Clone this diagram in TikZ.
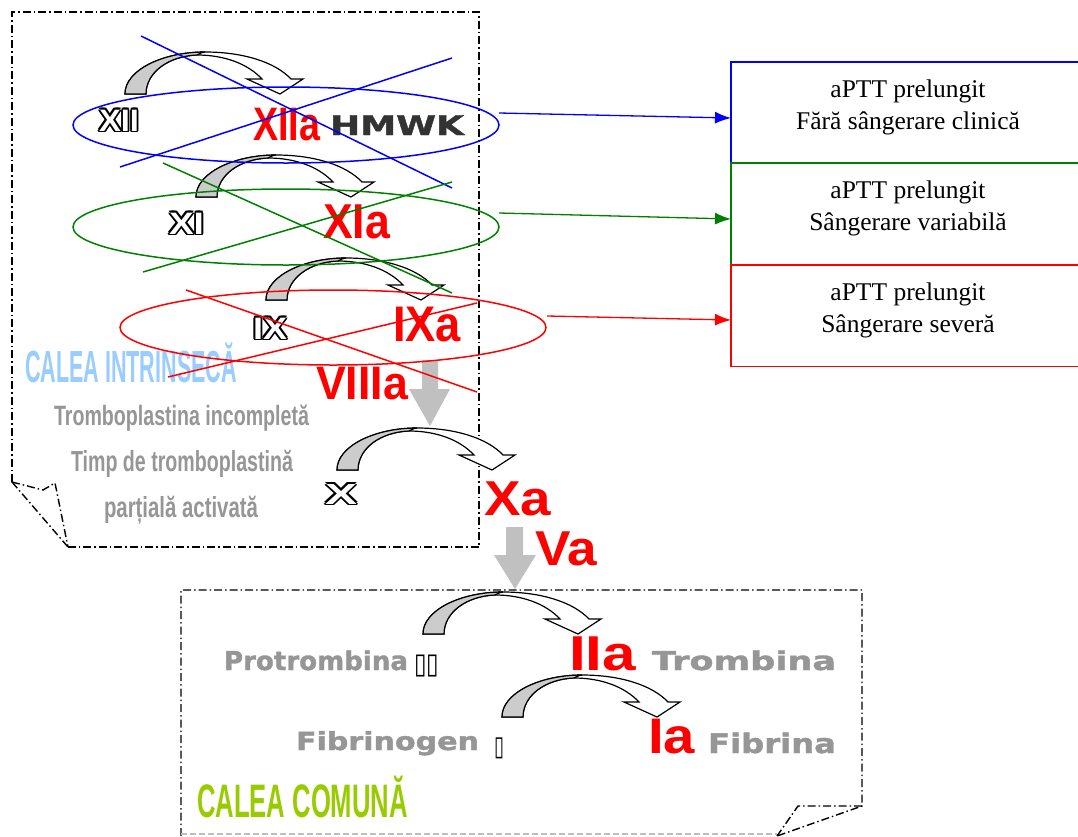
\documentclass[tikz,border=0pt]{standalone}
\usepackage{fontspec}
\usepackage{graphicx}
\usetikzlibrary{arrows.meta,shapes.geometric}
\setmainfont{Liberation Serif}
\newfontfamily\arial{Liberation Sans}
\newfontfamily\dejavu{DejaVu Sans}
\newfontfamily\dvh{DejaVu Sans Bold}[FakeBold=1.3]
\definecolor{lblue}{HTML}{99CCFF}
\definecolor{lgreen}{HTML}{99CC00}
\definecolor{tgray}{HTML}{969696}
\definecolor{dgray}{HTML}{333333}
\definecolor{agray}{HTML}{CCCCCC}
\definecolor{bgray}{HTML}{C0C0C0}
\definecolor{dgreen}{HTML}{008000}
\definecolor{egray}{HTML}{BEBEBE}
\newcommand\fw[2]{\resizebox{#1pt}{\height}{#2}}
\newcommand\ab[1]{\arial\bfseries\fontsize{#1}{#1}\selectfont}
\newcommand\db[1]{\dvh\fontsize{#1}{#1}\selectfont}
\newcommand\olcopies[1]{\rlap{\kern1.8pt #1}\rlap{\kern-1.8pt #1}\rlap{\raisebox{1.8pt}{#1}}\rlap{\raisebox{-1.8pt}{#1}}\rlap{\kern1.3pt\raisebox{1.3pt}{#1}}\rlap{\kern-1.3pt\raisebox{1.3pt}{#1}}\rlap{\kern1.3pt\raisebox{-1.3pt}{#1}}\rlap{\kern-1.3pt\raisebox{-1.3pt}{#1}}#1}
\newcommand\olab[6]{% name, x, y, width, size, text
  \node[lbl,text=black] at (#2,#3) {\olcopies{\fw{#4}{\ab{#5}#6}}};
  \node[lbl,text=white] (#1) at (#2,#3) {\fw{#4}{\ab{#5}#6}};}
\tikzset{
  lbl/.style={inner sep=0pt, outer sep=0pt, anchor=base west},
  frame/.style={line width=1.4pt, dash pattern=on 8pt off 3pt on 1.5pt off 3pt},
  ell/.style={ellipse, line width=1.5pt, minimum width=426pt, inner sep=0pt},
  cross/.style={line width=1.5pt},
  conn/.style={line width=1.3pt, -{Latex[length=16pt,width=12pt]}},
  boxtxt/.style={align=center, inner sep=0pt, font=\fontsize{25.5}{32}\selectfont},
  boxnode/.style={anchor=north west, minimum width=350pt, minimum height=101pt, inner sep=0pt},
  carrow/.pic={
    \path[draw=black, fill=white, line width=1.2pt, line join=miter]
      (0,0) .. controls (0,-24) and (38,-42) .. (80,-42)
      .. controls (118,-42) and (150,-32) .. (166,-15)
      -- (178,-15) -- (155,0) -- (122,-15) -- (137,-15)
      .. controls (122,-31) and (98,-39) .. (72,-39)
      .. controls (44,-38) and (21,-22) .. (21,0) -- cycle;
    \path[draw=black, fill=agray, line width=1.2pt]
      (0,0) .. controls (0,-24) and (38,-42) .. (80,-42)
      .. controls (76,-41.5) and (74,-40) .. (72,-39)
      .. controls (44,-38) and (21,-22) .. (21,0) -- cycle;
  }
}
\begin{document}
\begin{tikzpicture}[x=1pt,y=-1pt]
\useasboundingbox[fill=white] (0,0) rectangle (1078,836);
% frames
\draw[frame] (12,482) -- (12,12) -- (479,12) -- (479,547) -- (68,547);
\draw[frame] (12,482) -- (68,547);
\draw[frame] (12,482) -- (43,490) -- (55,483) -- (68,547);
\draw[frame] (181,836) -- (181,590) -- (862,590) -- (862,806) -- (777,836);
\draw[frame] (862,806) -- (798,806) -- (777,836);
\draw[egray, line width=1.2pt, dash pattern=on 6pt off 3pt] (181,834) -- (777,834);
% gray block arrows
\path[fill=bgray] (422,360) -- (438,360) -- (438,389) -- (450,389) -- (430,426) -- (409,389) -- (422,389) -- cycle;
\path[fill=bgray] (506,527) -- (523,527) -- (523,555) -- (536,555) -- (515,589) -- (494,555) -- (506,555) -- cycle;
% curved arrows
\pic (ca1) at (125,94) {carrow};
\pic (ca2) at (196,197) {carrow};
\pic (ca3) at (266,300) {carrow};
\pic (ca4) at (337,470) {carrow};
\pic (ca5) at (423,634) {carrow};
\pic (ca6) at (502,717) {carrow};
% outlined numerals
\olab{xii}{99}{131}{40}{31}{XII}
\olab{xi}{169}{234}{35}{31}{XI}
\olab{ix}{253}{339}{34}{31}{IX}
\olab{x}{325}{504}{32}{29}{X}
% red labels
\node[lbl,text=red] (xiia) at (253,140) {\fw{67}{\ab{47}XIIa}};
\node[lbl,text=dgray] (hmwk) at (330,135) {\fw{134}{\db{27}HMWK}};
\node[lbl,text=red] (xia) at (323,238) {\fw{67}{\ab{49}XIa}};
\node[lbl,text=red] (ixa) at (393,341) {\fw{68}{\ab{50}IXa}};
\node[lbl,text=red] (viiia) at (316,399) {\fw{92}{\ab{47}VIIIa}};
\node[lbl,text=red] (xa) at (484,515) {\fw{67}{\ab{49}Xa}};
\node[lbl,text=red] (va) at (535,565) {\fw{62}{\ab{49}Va}};
\node[lbl,text=red] (iia) at (569,670) {\fw{67}{\ab{49}IIa}};
\node[lbl,text=red] (ia) at (648,753) {\fw{47}{\ab{50}Ia}};
% gray labels
\node[lbl,text=lblue] (ci) at (25,382) {\fw{212}{\ab{45}CALEA INTRINSECĂ}};
\node[lbl,text=tgray] (tri) at (54,425) {\fw{255}{\ab{28}Tromboplastina incompletă}};
\node[lbl,text=tgray] (tdt) at (71,471) {\fw{222}{\ab{29}Timp de tromboplastină}};
\node[lbl,text=tgray] (pa) at (104,517) {\fw{154}{\ab{29}parțială activată}};
\node[lbl,text=tgray] (prot) at (224,670) {\fw{184}{\db{26}Protrombina}};
\node[lbl,text=black] (tofu1) at (414,673) {\resizebox*{25pt}{22pt}{\dejavu ▯▯}};
\node[lbl,text=tgray] (tromb) at (652,670) {\fw{184}{\db{26}Trombina}};
\node[lbl,text=tgray] (fibg) at (296,750) {\fw{183}{\db{25}Fibrinogen}};
\node[lbl,text=black] (tofu2) at (494,755) {\resizebox*{10pt}{21pt}{\dejavu ▯}};
\node[lbl,text=tgray] (fib) at (708,753) {\fw{128}{\db{27}Fibrina}};
\node[lbl,text=lgreen] (cc) at (197,817) {\fw{211}{\ab{47}CALEA COMUNĂ}};
% ellipses and crosses
\node[ell, draw=blue, minimum height=76pt] (e1) at (286,125) {};
\node[ell, draw=dgreen, minimum height=76pt] (e2) at (286,227) {};
\node[ell, draw=red, minimum height=75pt] (e3) at (333,327.5) {};
\draw[cross, blue] (141,36) -- (452,188);
\draw[cross, blue] (120,167) -- (452,58);
\draw[cross, dgreen] (163,163) -- (452,293);
\draw[cross, dgreen] (143,272) -- (452,182);
\draw[cross, red] (186,290) -- (477,392);
\draw[cross, red] (168,377) -- (477,303);
% boxes
\node[boxnode] (b1) at (731,62) {};
\node[boxnode] (b2) at (731,163) {};
\node[boxnode] (b3) at (731,265) {};
\draw[blue, line width=1.5pt] (b1.north east) -- (b1.north west) -- (b1.south west);
\draw[dgreen, line width=1.5pt] (b2.north east) -- (b2.north west) -- (b2.south west);
\draw[red, line width=1.5pt] (b3.north east) -- (b3.north west) -- (b3.south west) -- (b3.south east);
\node[boxtxt] (t1) at (908,107) {aPTT prelungit\\Fără sângerare clinică};
\node[boxtxt] (t2) at (908,208) {aPTT prelungit\\Sângerare variabilă};
\node[boxtxt] (t3) at (908,310) {aPTT prelungit\\Sângerare severă};
% connectors
\coordinate (s1) at (499,113);
\coordinate (s2) at (499,213);
\coordinate (s3) at (547,316);
\coordinate (d1) at (731,118);
\coordinate (d2) at (731,219);
\coordinate (d3) at (731,320);
\draw[conn, blue] (s1) -- (d1);
\draw[conn, dgreen] (s2) -- (d2);
\draw[conn, red] (s3) -- (d3);
\end{tikzpicture}
\end{document}
